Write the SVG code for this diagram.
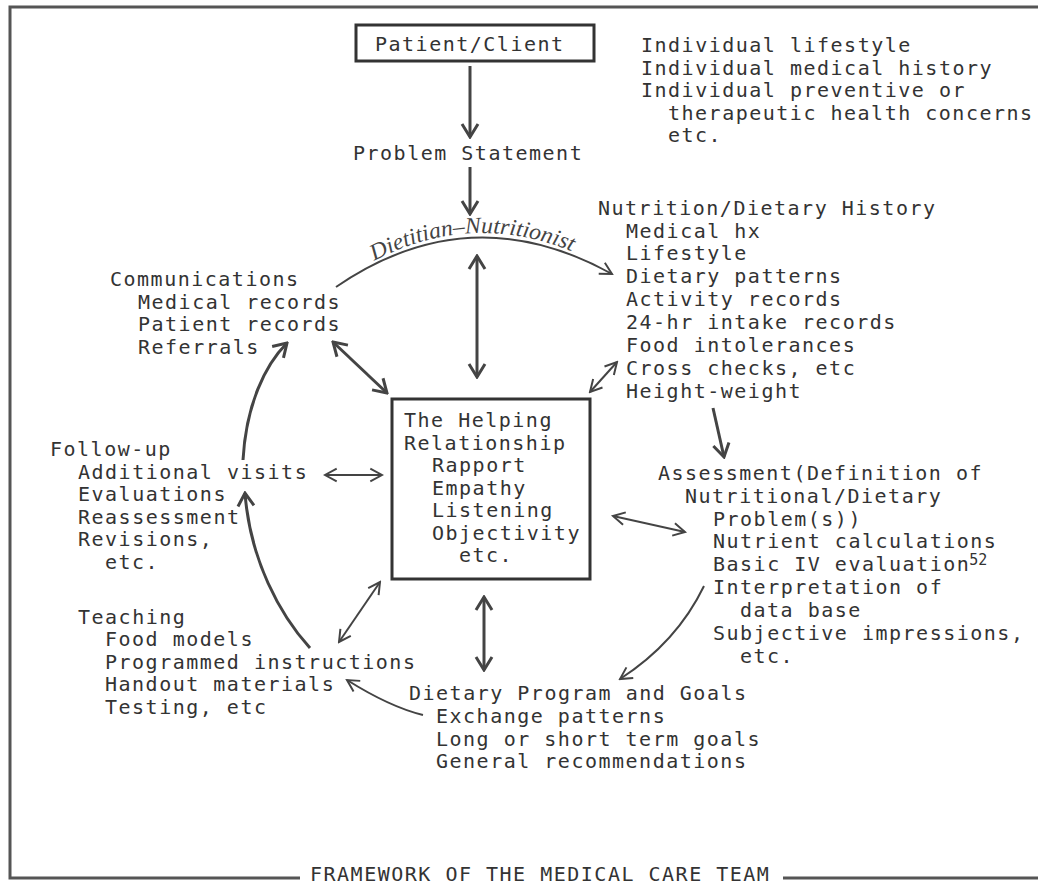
<svg xmlns="http://www.w3.org/2000/svg" width="1038" height="887" viewBox="0 0 1038 887">
<style>
text{font-family:"DejaVu Sans Mono","Liberation Mono",monospace;font-size:20px;letter-spacing:1.5px;fill:#333}
.hand{font-family:"Liberation Serif",serif;font-style:italic;font-size:23px;letter-spacing:0;fill:#444}
.sup{font-size:15px;letter-spacing:0}
.frame{fill:none;stroke:#555;stroke-width:3}
.box{fill:none;stroke:#333;stroke-width:3}
.thick{fill:none;stroke:#444;stroke-width:3}
.thin{fill:none;stroke:#444;stroke-width:2}
</style>
<defs>
<marker id="ah" viewBox="0 0 20 20" refX="18" refY="10" markerWidth="20" markerHeight="20" orient="auto-start-reverse" markerUnits="userSpaceOnUse">
<path d="M5 2 L18 10 L5 18" fill="none" stroke="#444" stroke-width="3"/>
</marker>
<marker id="ah2" viewBox="0 0 20 20" refX="18" refY="10" markerWidth="18" markerHeight="18" orient="auto-start-reverse" markerUnits="userSpaceOnUse">
<path d="M5 3 L18 10 L5 17" fill="none" stroke="#444" stroke-width="2.2"/>
</marker>
<path id="arcText" d="M338 283 Q 470 190 610 270"/>
</defs>

<g id="frame">
<path class="frame" d="M300 878 H10 V7 H1038"/>
<path class="frame" d="M783 878 H1038"/>
<text x="310" y="881">FRAMEWORK OF THE MEDICAL CARE TEAM</text>
</g>

<g id="patient">
<rect class="box" x="356" y="25" width="238" height="36"/>
<text x="375" y="51">Patient/Client</text>
</g>

<g id="individual">
<text x="641" y="52">Individual lifestyle</text>
<text x="641" y="74.5">Individual medical history</text>
<text x="641" y="97">Individual preventive or</text>
<text x="668" y="119.5">therapeutic health concerns</text>
<text x="668" y="142">etc.</text>
</g>

<g id="problem">
<text x="353" y="160">Problem Statement</text>
</g>

<g id="communications">
<text x="110" y="286">Communications</text>
<text x="138" y="308.5">Medical records</text>
<text x="138" y="331">Patient records</text>
<text x="138" y="353.5">Referrals</text>
</g>

<g id="nutrition">
<text x="598" y="215">Nutrition/Dietary History</text>
<text x="626" y="237.5">Medical hx</text>
<text x="626" y="260">Lifestyle</text>
<text x="626" y="283">Dietary patterns</text>
<text x="626" y="306">Activity records</text>
<text x="626" y="329">24-hr intake records</text>
<text x="626" y="352">Food intolerances</text>
<text x="626" y="375">Cross checks, etc</text>
<text x="626" y="398">Height-weight</text>
</g>

<g id="helping">
<rect class="box" x="392" y="399" width="198" height="180"/>
<text x="404" y="427">The Helping</text>
<text x="404" y="449.5">Relationship</text>
<text x="432" y="472">Rapport</text>
<text x="432" y="494.5">Empathy</text>
<text x="432" y="517">Listening</text>
<text x="432" y="539.5">Objectivity</text>
<text x="459" y="562">etc.</text>
</g>

<g id="followup">
<text x="50" y="456">Follow-up</text>
<text x="78" y="478.5">Additional visits</text>
<text x="78" y="501">Evaluations</text>
<text x="78" y="523.5">Reassessment</text>
<text x="78" y="546">Revisions,</text>
<text x="105" y="568.5">etc.</text>
</g>

<g id="assessment">
<text x="658" y="480">Assessment(Definition of</text>
<text x="685" y="503">Nutritional/Dietary</text>
<text x="713" y="525.5">Problem(s))</text>
<text x="713" y="548">Nutrient calculations</text>
<text x="713" y="571">Basic IV evaluation<tspan class="sup" dx="-1" dy="-6">52</tspan></text>
<text x="713" y="594">Interpretation of</text>
<text x="740" y="617">data base</text>
<text x="713" y="640">Subjective impressions,</text>
<text x="740" y="663">etc.</text>
</g>

<g id="teaching">
<text x="78" y="623.5">Teaching</text>
<text x="105" y="646">Food models</text>
<text x="105" y="668.5">Programmed instructions</text>
<text x="105" y="691">Handout materials</text>
<text x="105" y="713.5">Testing, etc</text>
</g>

<g id="dietary">
<text x="409" y="700">Dietary Program and Goals</text>
<text x="436" y="723">Exchange patterns</text>
<text x="436" y="745.5">Long or short term goals</text>
<text x="436" y="768">General recommendations</text>
</g>

<g id="dietitian">
<text class="hand"><textPath href="#arcText" startOffset="50%" text-anchor="middle" textLength="205" lengthAdjust="spacingAndGlyphs">Dietitian–Nutritionist</textPath></text>
</g>

<g id="connectors">
<path class="thick" d="M470 66 V137" marker-end="url(#ah)"/>
<path class="thick" d="M470 167 V214" marker-end="url(#ah)"/>
<path class="thin" d="M336 287 Q 470 195 612 274" marker-end="url(#ah2)"/>
<path class="thick" d="M477 256 V377" marker-start="url(#ah)" marker-end="url(#ah)"/>
<path class="thick" d="M333 342 L387 393" marker-start="url(#ah)" marker-end="url(#ah)"/>
<path class="thin" d="M590 392 L617 362" marker-start="url(#ah2)" marker-end="url(#ah2)"/>
<path class="thick" d="M713 408 L724 457" marker-end="url(#ah)"/>
<path class="thin" d="M325 475 H382" marker-start="url(#ah2)" marker-end="url(#ah2)"/>
<path class="thin" d="M613 516 L685 532" marker-start="url(#ah2)" marker-end="url(#ah2)"/>
<path class="thin" d="M380 582 L339 642" marker-start="url(#ah2)" marker-end="url(#ah2)"/>
<path class="thick" d="M484 597 V670" marker-start="url(#ah)" marker-end="url(#ah)"/>
<path class="thick" d="M243 460 C 246 405, 265 365, 287 343" marker-end="url(#ah)"/>
<path class="thick" d="M310 648 C 280 615, 250 560, 245 493" marker-end="url(#ah)"/>
<path class="thin" d="M704 586 C 690 615, 665 650, 620 679" marker-end="url(#ah2)"/>
<path class="thin" d="M423 715 Q 390 707, 347 680" marker-end="url(#ah2)"/>
</g>
</svg>
